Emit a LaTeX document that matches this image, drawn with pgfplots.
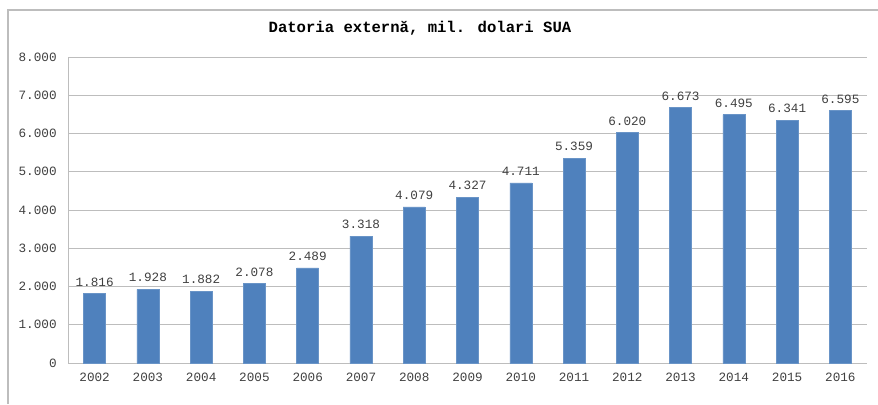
\documentclass[border=0pt]{standalone}
\usepackage{pgfplots}
\pgfplotsset{compat=1.18}
\usepackage{fontspec}
\setmainfont{Liberation Mono}
\definecolor{barblue}{HTML}{4F81BD}
\definecolor{gridgray}{HTML}{BDBDBD}
\definecolor{txt}{HTML}{404040}
\begin{document}
\begin{tikzpicture}
% 1px = 0.75pt
\useasboundingbox (0,0) rectangle (658.5pt,303pt);
\draw[gridgray, line width=0.9pt] (6pt,0) -- (6pt,295.5pt) -- (658.5pt,295.5pt);
\node[font=\fontsize{11.7}{13}\selectfont\bfseries] at (315pt,282pt) {Datoria externă, mil. dolari SUA};
\begin{axis}[
    at={(51pt,30.75pt)}, anchor=south west,
    scale only axis, width=599.25pt, height=229.5pt,
    ybar, bar width=16.5pt,
    xmin=-0.5, xmax=14.5, ymin=0, ymax=8000,
    xtick=data,
    xticklabels={2002,2003,2004,2005,2006,2007,2008,2009,2010,2011,2012,2013,2014,2015,2016},
    ytick={0,1000,...,8000},
    axis lines=left, axis line style={draw=gridgray, line width=0.7pt, -},
    ymajorgrids, grid style={draw=gridgray, line width=0.7pt},
    major tick length=0pt,
    tick label style={font=\fontsize{9.5}{11}\selectfont, text=txt},
    yticklabel style={xshift=-5pt},
    xticklabel style={yshift=-4pt},
    /pgf/number format/.cd, 1000 sep={.}, fixed, precision=0, assume math mode=true,
    /pgfplots/.cd,
    nodes near coords,
    nodes near coords style={font=\fontsize{9.5}{11}\selectfont, text=txt, yshift=2pt,
      /pgf/number format/.cd, 1000 sep={.}, fixed, precision=0, assume math mode=true},
]
\addplot[fill=barblue, draw=barblue!85!white] coordinates {
 (0,1816) (1,1928) (2,1882) (3,2078) (4,2489) (5,3318) (6,4079) (7,4327)
 (8,4711) (9,5359) (10,6020) (11,6673) (12,6495) (13,6341) (14,6595)};
\end{axis}
\end{tikzpicture}
\end{document}
